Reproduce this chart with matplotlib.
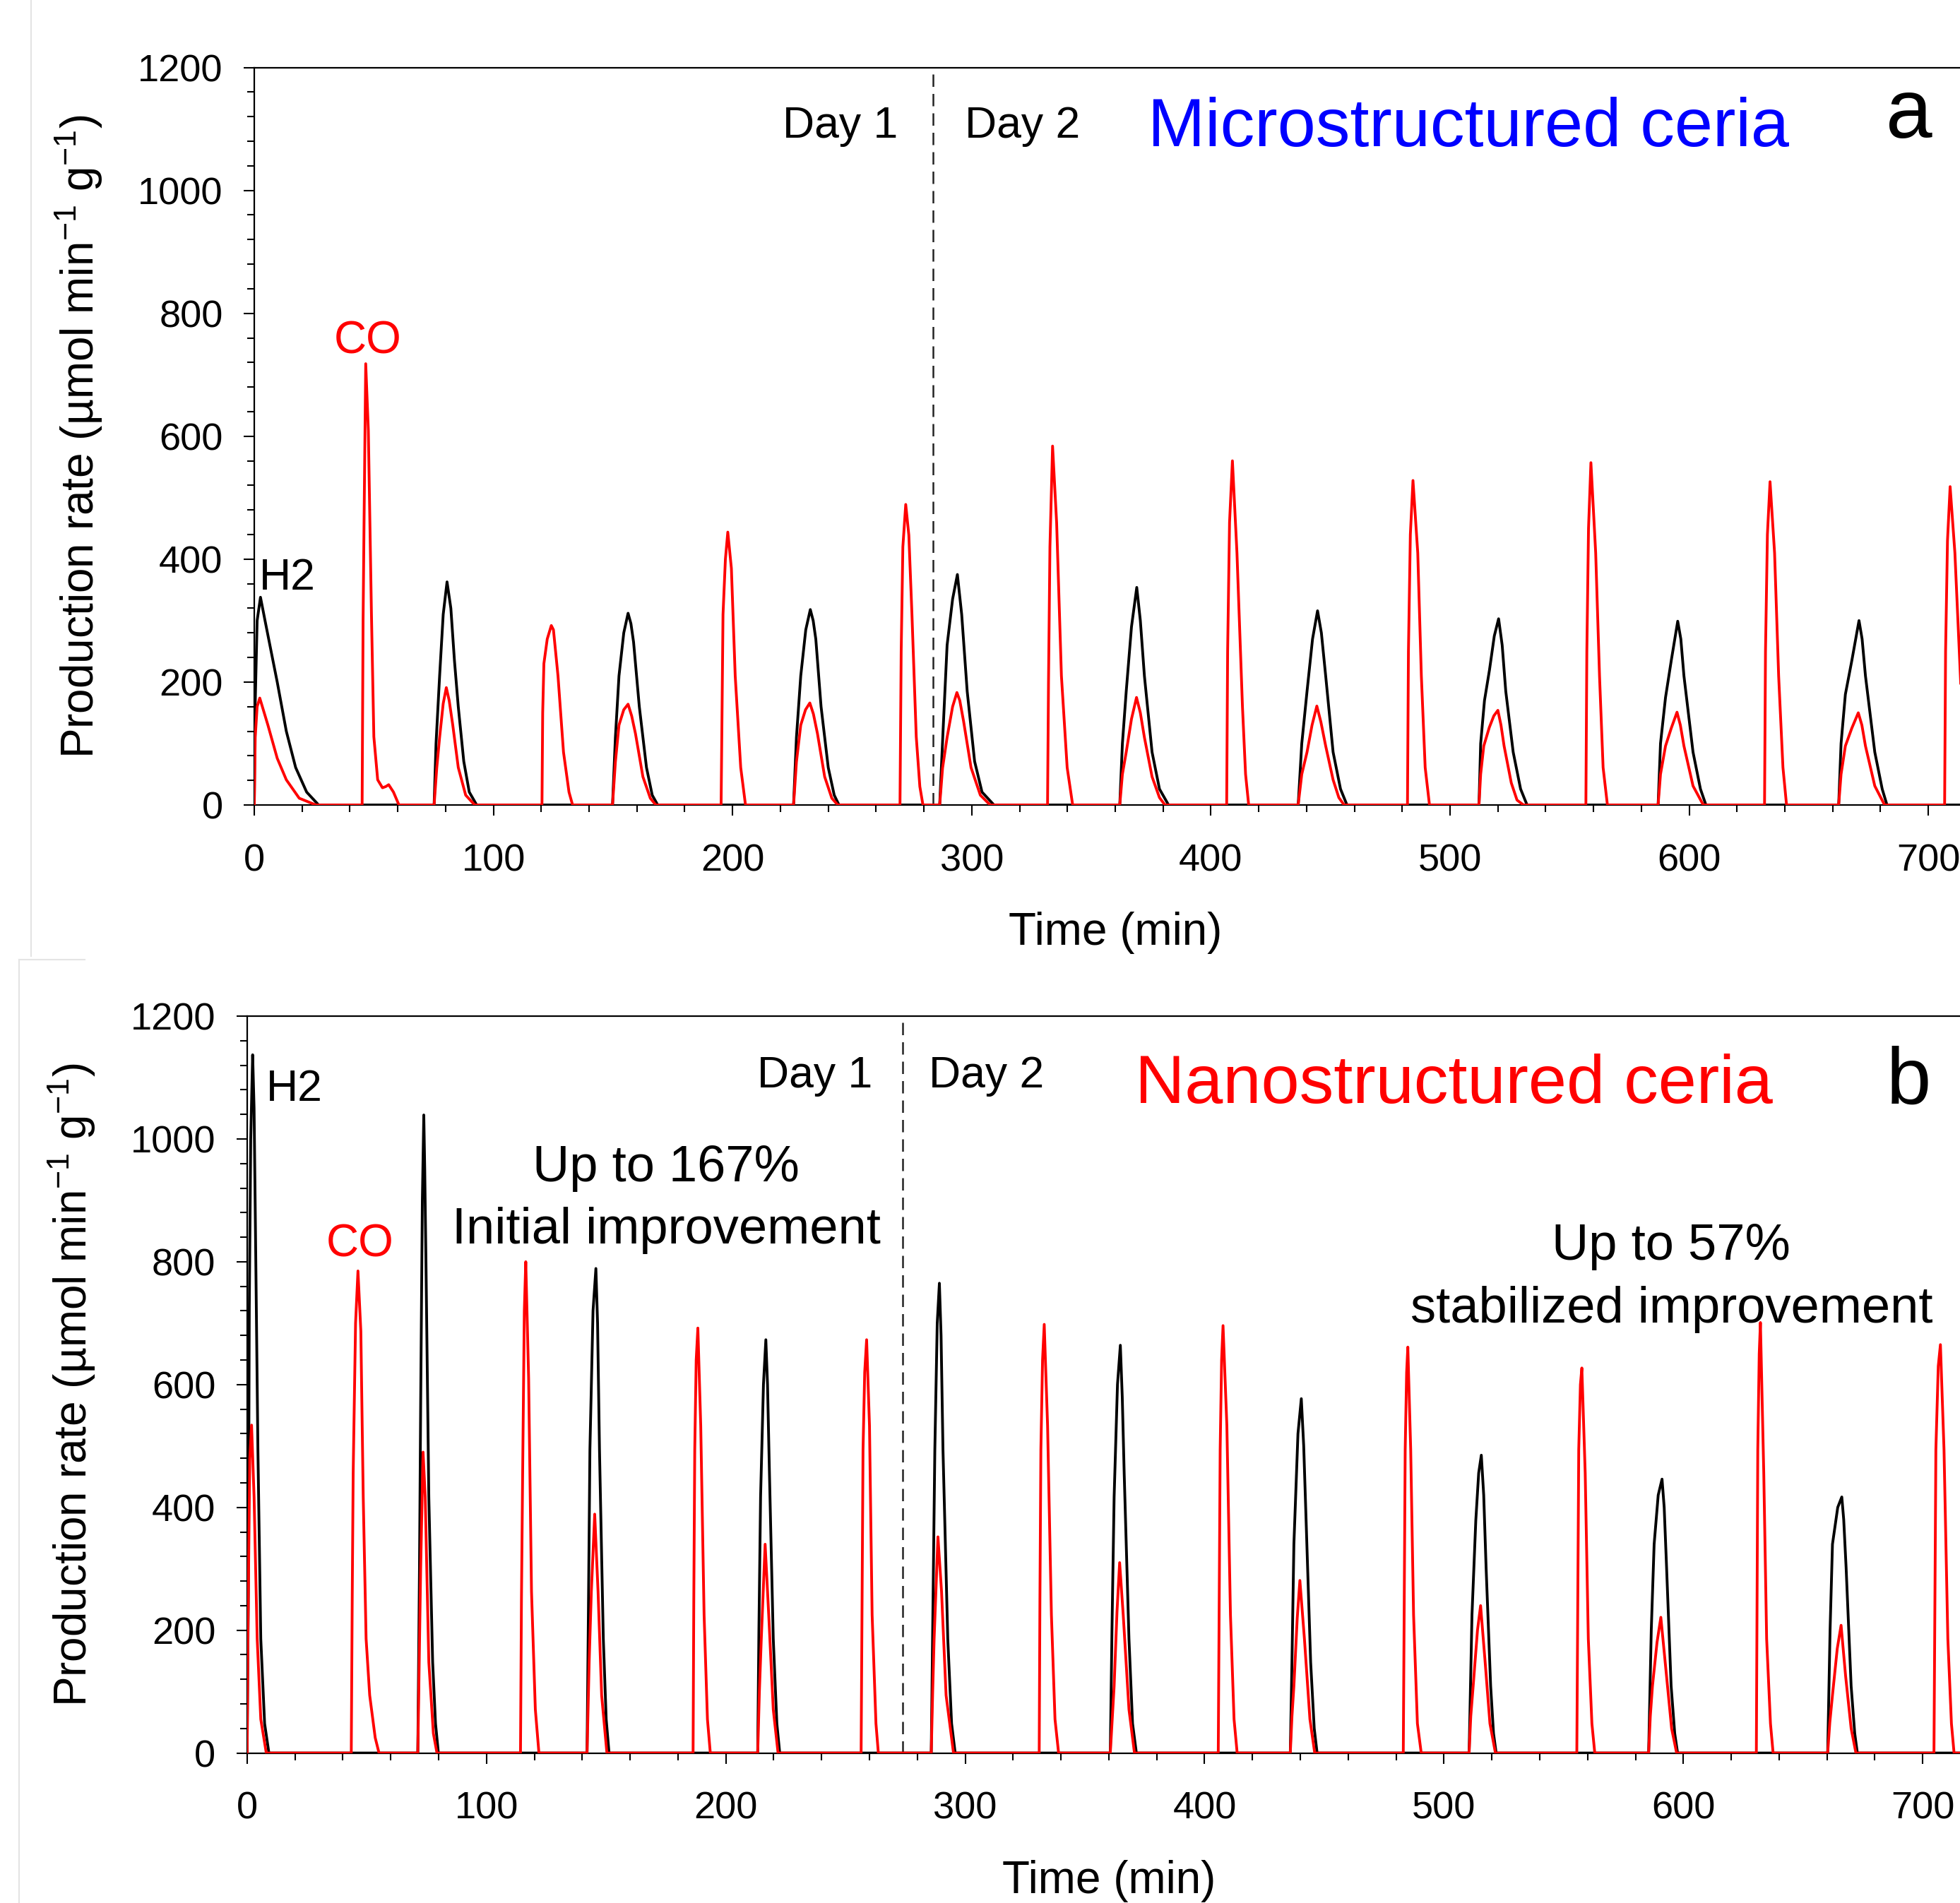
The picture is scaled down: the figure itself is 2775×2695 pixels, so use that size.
import matplotlib
matplotlib.use('Agg')
import matplotlib.pyplot as plt
from matplotlib.ticker import MultipleLocator
from matplotlib.lines import Line2D

plt.rcParams['font.family'] = ['Liberation Sans', 'DejaVu Sans']
plt.rcParams['mathtext.fontset'] = 'custom'
plt.rcParams['mathtext.rm'] = 'Liberation Sans'
plt.rcParams['mathtext.it'] = 'Liberation Sans:italic'

# (time min, rate) points

# panel a, microstructured ceria
A_H2 = [
    [(0, 0), (0.3, 150), (1.2, 300), (2.6, 338), (4.5, 300), (7.3, 245), (9.6, 200), (13.4, 120), (17.3, 61), (21.9, 21), (26.9, 0)],
    [(75.2, 0), (76, 100), (77.5, 210), (79, 310), (80.6, 363), (82.2, 320), (83.7, 235), (85.3, 160), (87.6, 71), (89.9, 21), (93, 0)],
    [(149.8, 0), (151, 110), (152.5, 210), (154.5, 280), (156.3, 312), (157.5, 295), (158.6, 265), (161, 160), (164, 61), (166.4, 16), (168.7, 0)],
    [(225.5, 0), (226.7, 110), (228.5, 210), (230.6, 285), (232.5, 318), (233.7, 300), (234.8, 270), (237, 160), (240, 61), (242.5, 16), (244.5, 0)],
    [(286.6, 0), (288, 120), (289.7, 260), (292, 335), (294, 375), (295.8, 310), (298.1, 185), (301.2, 71), (304.3, 21), (309.3, 0)],
    [(361.9, 0), (363, 100), (364.6, 185), (366.8, 290), (369, 354), (370.5, 300), (372.2, 210), (375.4, 86), (378.5, 26), (382.3, 0)],
    [(436.5, 0), (438, 100), (440.2, 185), (442.5, 270), (444.6, 316), (446.2, 280), (448, 210), (451.1, 86), (454.2, 26), (456.9, 0)],
    [(512.1, 0), (512.8, 100), (514.4, 170), (516.5, 220), (518.5, 275), (520.3, 303), (521.8, 260), (523.3, 185), (526.4, 86), (529.5, 26), (532.2, 0)],
    [(587, 0), (588, 100), (590.1, 175), (592.5, 235), (595.2, 299), (596.5, 270), (597.8, 210), (601.6, 86), (604.7, 26), (607, 0)],
    [(662.5, 0), (663.5, 100), (665.3, 180), (668, 235), (671, 300), (672.3, 270), (673.7, 210), (677.6, 86), (680.7, 26), (682.7, 0)],
]
A_CO = [
    [(0, 0), (0.4, 110), (1.2, 160), (2.3, 174), (5.7, 130), (9.6, 76), (13.4, 41), (18.8, 11), (25.8, 0)],
    [(45.1, 0), (45.5, 300), (45.9, 459), (46.6, 718), (47.7, 609), (49, 310), (50, 111), (51.6, 41), (53.6, 28), (55, 30), (56.2, 33), (58.2, 21), (60.5, 0)],
    [(75.2, 0), (76.3, 60), (77.5, 110), (79, 165), (80.3, 191), (81.5, 170), (83, 130), (85.3, 61), (88.4, 16), (92.2, 0)],
    [(120.3, 0), (120.6, 150), (121.1, 230), (122.5, 270), (124.2, 292), (125.1, 285), (127, 210), (129.3, 86), (131.6, 21), (133.1, 0)],
    [(149.8, 0), (151, 70), (152.5, 130), (154.5, 155), (156.3, 164), (157.8, 145), (159.4, 116), (162.5, 46), (165.6, 11), (167.9, 0)],
    [(195.2, 0), (195.6, 150), (196, 310), (197, 400), (198, 444), (199.5, 385), (201.1, 210), (203.4, 61), (205.4, 0)],
    [(225.5, 0), (226.7, 70), (228.5, 130), (230.5, 155), (232.3, 166), (233.8, 148), (235.5, 116), (238.5, 46), (241.5, 11), (244, 0)],
    [(270, 0), (270.5, 250), (271.2, 420), (272.4, 489), (273.7, 439), (275, 310), (276.8, 111), (278.3, 30), (279.6, 0)],
    [(286.6, 0), (287.8, 60), (289.7, 110), (292, 160), (293.8, 183), (295, 170), (296.6, 136), (299.7, 61), (303.6, 16), (307.7, 0)],
    [(331.7, 0), (332.1, 200), (332.7, 420), (333.8, 584), (335.5, 459), (337.5, 210), (339.9, 61), (342.2, 0)],
    [(361.9, 0), (363, 50), (364.6, 86), (366.8, 140), (368.9, 175), (370.5, 150), (372.2, 110), (375.4, 46), (378.5, 12), (380.8, 0)],
    [(406.6, 0), (407, 250), (407.8, 460), (409, 560), (410.9, 410), (413.2, 160), (414.5, 50), (415.8, 0)],
    [(436.5, 0), (438, 50), (440.2, 86), (442.3, 130), (444.3, 161), (446, 135), (448, 96), (451.1, 41), (453.5, 12), (455.7, 0)],
    [(482.2, 0), (482.6, 250), (483.4, 440), (484.5, 528), (486.5, 410), (488, 210), (489.6, 61), (491.4, 0)],
    [(512.1, 0), (512.8, 50), (514.1, 96), (516.4, 126), (518.3, 145), (520, 154), (521.3, 130), (522.6, 96), (525.6, 36), (528, 8), (530.7, 0)],
    [(556.8, 0), (557.2, 250), (557.9, 450), (558.9, 557), (560.9, 410), (562.5, 210), (564, 61), (565.8, 0)],
    [(587, 0), (588, 50), (590.1, 96), (592.5, 125), (594.9, 151), (596.3, 130), (597.8, 96), (601.6, 31), (605.9, 0)],
    [(631.5, 0), (631.9, 250), (632.7, 440), (633.8, 526), (635.7, 410), (637.4, 210), (639.2, 61), (640.7, 0)],
    [(662.5, 0), (663.5, 50), (665.3, 96), (668, 125), (670.7, 150), (672.2, 130), (673.7, 96), (677.6, 31), (681.7, 0)],
    [(706.8, 0), (707.2, 250), (708, 430), (709.1, 518), (711.1, 410), (713.4, 210), (715, 61), (716.5, 0)],
]

# panel b, nanostructured ceria
B_H2 = [
    [(0, 0), (0.5, 263), (0.9, 725), (1.5, 1000), (2.3, 1137), (2.9, 1050), (3.4, 879), (4.5, 494), (5.7, 186), (7.3, 48), (9.1, 0)],
    [(71.3, 0), (72, 300), (72.5, 571), (73.2, 900), (73.8, 1039), (74.2, 950), (74.7, 802), (75.9, 417), (77.5, 148), (78.7, 48), (79.9, 0)],
    [(142, 0), (142.5, 200), (143.2, 494), (144.5, 720), (145.7, 789), (146.4, 700), (147.2, 494), (148.8, 186), (150, 55), (151.2, 0)],
    [(213.3, 0), (213.8, 200), (214.5, 417), (215.7, 600), (216.7, 673), (217.4, 600), (218.2, 456), (219.8, 186), (221.3, 48), (222.5, 0)],
    [(285.8, 0), (286.4, 200), (287.3, 494), (288.3, 700), (289.2, 765), (289.9, 680), (290.7, 494), (292.7, 186), (294.3, 48), (295.8, 0)],
    [(360.6, 0), (361.3, 200), (362.2, 417), (363.6, 600), (364.8, 664), (365.6, 580), (366.4, 456), (368.4, 186), (369.9, 48), (371.5, 0)],
    [(435.8, 0), (436.5, 150), (437.3, 340), (439, 520), (440.4, 577), (441.4, 500), (442.4, 379), (444.3, 148), (445.8, 40), (447, 0)],
    [(510.5, 0), (511.7, 225), (513.3, 379), (514.5, 456), (515.6, 485), (516.6, 420), (517.6, 302), (519.5, 109), (520.7, 32), (521.8, 0)],
    [(585.5, 0), (586.6, 200), (587.8, 340), (589.5, 420), (591.1, 446), (592, 400), (593, 302), (594.9, 109), (596.4, 32), (597.6, 0)],
    [(660.3, 0), (661.3, 200), (662.3, 340), (664.5, 400), (666.2, 417), (667, 380), (668, 302), (670.1, 109), (671.6, 32), (672.7, 0)],
]
B_CO = [
    [(0, 0), (0.3, 186), (1.1, 479), (1.85, 534), (2.9, 417), (4.2, 186), (5.7, 55), (8, 0)],
    [(43.5, 0), (43.9, 250), (44.3, 456), (45.3, 700), (46.3, 785), (47.5, 687), (48.5, 417), (49.7, 186), (51.2, 94), (53.5, 25), (55.1, 0)],
    [(71.3, 0), (71.9, 150), (72.5, 302), (73.5, 490), (74.4, 417), (75.9, 148), (77.8, 32), (79.3, 0)],
    [(114.2, 0), (114.6, 250), (115.1, 456), (115.8, 720), (116.4, 800), (117.6, 610), (118.8, 263), (120.4, 71), (121.9, 0)],
    [(142, 0), (142.9, 150), (143.8, 263), (145.2, 389), (146.6, 263), (148.1, 94), (150.3, 0)],
    [(186.3, 0), (186.6, 250), (187, 494), (187.6, 640), (188.3, 692), (189.5, 533), (190.9, 225), (192.3, 55), (193.5, 0)],
    [(213.3, 0), (214, 100), (214.8, 186), (216.4, 340), (217.9, 225), (219.8, 71), (221.8, 0)],
    [(256.5, 0), (256.9, 250), (257.3, 494), (258, 620), (258.8, 673), (260, 533), (261.1, 225), (262.7, 48), (263.7, 0)],
    [(285.8, 0), (286.4, 100), (287, 186), (288.6, 352), (290.1, 263), (292, 94), (295.1, 0)],
    [(330.9, 0), (331.2, 250), (331.6, 494), (332.3, 640), (333, 698), (334.4, 533), (336, 225), (337.5, 55), (339, 0)],
    [(360.6, 0), (362.2, 109), (363.4, 230), (364.5, 310), (366, 225), (368.4, 71), (370.7, 0)],
    [(405.7, 0), (406.1, 250), (406.5, 494), (407.1, 640), (407.7, 696), (409.3, 533), (410.8, 225), (412.3, 55), (413.6, 0)],
    [(435.8, 0), (436.5, 60), (437.3, 109), (438.7, 220), (439.8, 281), (441.7, 186), (444, 55), (446, 0)],
    [(483, 0), (483.4, 250), (483.8, 494), (484.4, 620), (484.9, 661), (486.1, 494), (487.3, 225), (488.9, 48), (490.5, 0)],
    [(510.5, 0), (511.2, 60), (512.2, 109), (514, 200), (515.3, 240), (517.2, 148), (519.2, 48), (521.5, 0)],
    [(555.5, 0), (555.9, 250), (556.3, 494), (557, 600), (557.6, 627), (559, 456), (560.3, 186), (561.8, 48), (563, 0)],
    [(585.5, 0), (586.2, 60), (587.1, 109), (589, 180), (590.6, 221), (593, 125), (595.1, 40), (597.2, 0)],
    [(630.5, 0), (630.8, 250), (631.1, 494), (631.7, 650), (632.2, 701), (633.6, 456), (634.8, 186), (636.4, 48), (637.5, 0)],
    [(660.3, 0), (661.2, 50), (662.3, 94), (664.3, 170), (665.9, 208), (667.8, 125), (670.1, 40), (672.1, 0)],
    [(704.7, 0), (705.1, 250), (705.5, 494), (706.5, 630), (707.4, 665), (708.9, 494), (710.5, 186), (712, 48), (713.1, 0)],
]

DAY_SPLIT = {'a': 283.8, 'b': 273.8}
YLABEL = 'Production rate (µmol min$^{-1}$ g$^{-1}$)'


def trace(peaks, t_end=740):
    t, y = [], []
    for pk in peaks:
        for a, b in pk:
            t.append(a)
            y.append(b)
    t.append(t_end)
    y.append(0)
    return t, y


def style_axes(ax):
    ax.set_xlim(0, 800)
    ax.set_ylim(0, 1200)
    ax.xaxis.set_major_locator(MultipleLocator(100))
    ax.xaxis.set_minor_locator(MultipleLocator(20))
    ax.yaxis.set_major_locator(MultipleLocator(200))
    ax.yaxis.set_minor_locator(MultipleLocator(40))
    ax.spines['right'].set_visible(False)
    for s in ['left', 'bottom', 'top']:
        ax.spines[s].set_linewidth(1.6)
    ax.tick_params(which='both', direction='out', width=1.5, top=False, right=False)
    ax.tick_params(which='major', length=11)
    ax.tick_params(which='minor', length=7)
    ax.tick_params(axis='x', which='major', labelsize=39, pad=28)
    ax.tick_params(axis='y', which='major', labelsize=39, pad=21)
    ax.set_xlabel('Time (min)', fontsize=46, labelpad=34)
    # axes run past the right edge, so the label sits left of the axes centre
    ax.xaxis.label.set_x(0.45)
    ax.set_ylabel(YLABEL, fontsize=46, labelpad=34)


fig = plt.figure(figsize=(27.75, 26.95), dpi=100)

# faint panel borders from the original composite
fig.add_artist(Line2D([44 / 2775, 44 / 2775], [1, 1 - 1354 / 2695], color='#e4e4e4', lw=1.5))
fig.add_artist(Line2D([27 / 2775, 27 / 2775], [1 - 1359 / 2695, 0], color='#e4e4e4', lw=1.5))
fig.add_artist(Line2D([27 / 2775, 120 / 2775], [1 - 1359 / 2695, 1 - 1359 / 2695], color='#e4e4e4', lw=1.5))

ax_a = fig.add_axes([360 / 2775, 1 - 1140 / 2695, 8 * 338.6 / 2775, (1140 - 95.6) / 2695])
ax_b = fig.add_axes([349.9 / 2775, 1 - 2482.6 / 2695, 8 * 338.9 / 2775, (2482.6 - 1439) / 2695])

for ax, h2, co, key in [(ax_a, A_H2, A_CO, 'a'), (ax_b, B_H2, B_CO, 'b')]:
    style_axes(ax)
    t, y = trace(h2)
    ax.plot(t, y, color='black', lw=2.8, zorder=3)
    t, y = trace(co)
    ax.plot(t, y, color='red', lw=2.8, zorder=4)
    ax.axvline(DAY_SPLIT[key], color='#222222', lw=1.8, dashes=(7, 4), zorder=2)

# panel a labels
ax_a.text(2, 350, 'H2', fontsize=45, ha='left', va='baseline')
ax_a.text(47.3, 735, 'CO', fontsize=46, color='red', ha='center', va='baseline')
ax_a.text(269, 1086, 'Day 1', fontsize=45, ha='right', va='baseline')
ax_a.text(297.2, 1086, 'Day 2', fontsize=45, ha='left', va='baseline')
ax_a.text(373.5, 1072, 'Microstructured ceria', fontsize=70, color='blue', ha='left', va='baseline')
ax_a.text(691.8, 1086, 'a', fontsize=85, ha='center', va='baseline')

# panel b labels
ax_b.text(8, 1062, 'H2', fontsize=45, ha='left', va='baseline')
ax_b.text(47.2, 809, 'CO', fontsize=46, color='red', ha='center', va='baseline')
ax_b.text(261.3, 1084, 'Day 1', fontsize=45, ha='right', va='baseline')
ax_b.text(284.8, 1084, 'Day 2', fontsize=45, ha='left', va='baseline')
ax_b.text(371, 1058, 'Nanostructured ceria', fontsize=70, color='red', ha='left', va='baseline')
ax_b.text(694.2, 1058, 'b', fontsize=82, ha='center', va='baseline')
ax_b.text(175.1, 931, 'Up to 167%', fontsize=52, ha='center', va='baseline')
ax_b.text(175.1, 830, 'Initial improvement', fontsize=52, ha='center', va='baseline')
ax_b.text(595, 803, 'Up to 57%', fontsize=52, ha='center', va='baseline')
ax_b.text(595, 701.5, 'stabilized improvement', fontsize=52, ha='center', va='baseline')

fig.savefig('out.png', dpi=100)
